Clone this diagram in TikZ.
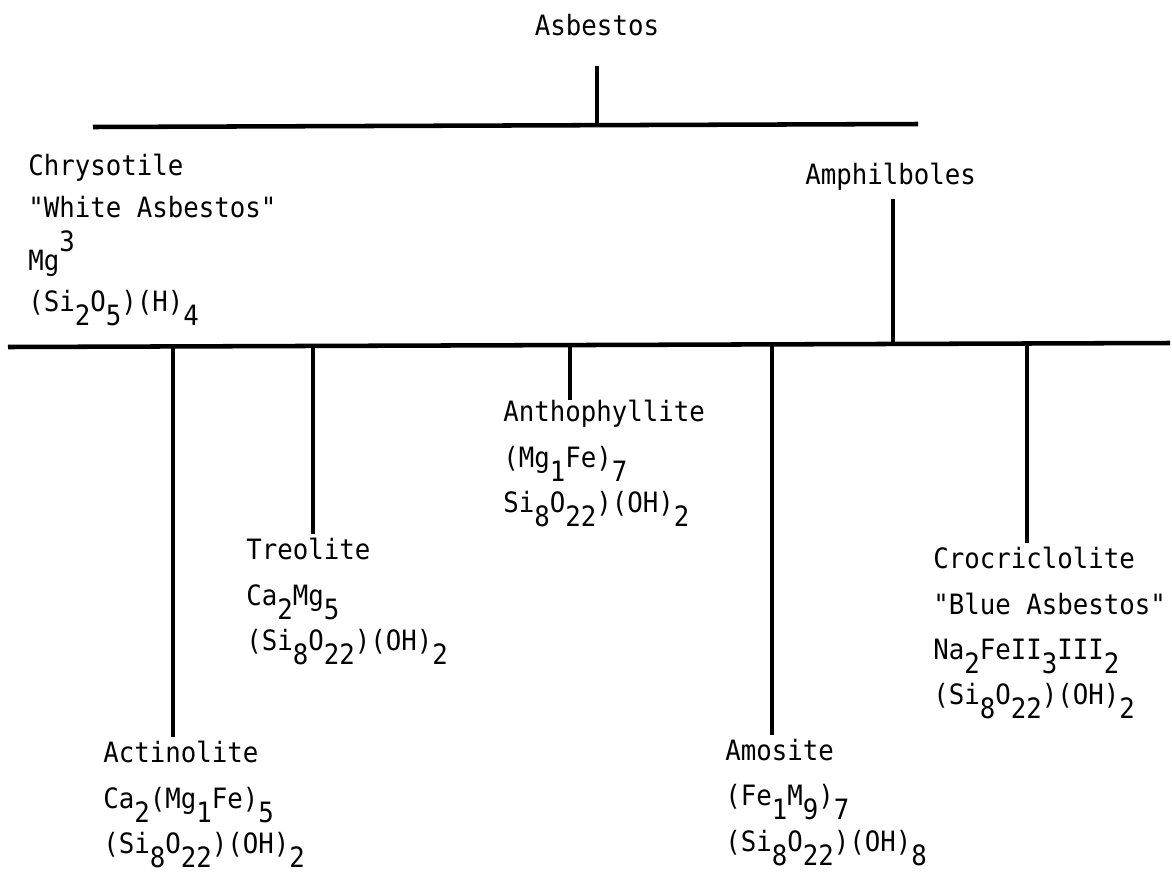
\documentclass[tikz,border=0pt]{standalone}
\usepackage{fontspec}
\newfontfamily\typer[FakeStretch=0.92]{DejaVu Sans Mono}
\newcommand{\lo}[1]{\raisebox{-10.5pt}{#1}}
\newcommand{\hi}[1]{\raisebox{14pt}{#1}}

\begin{document}
\begin{tikzpicture}[x=0.75pt,y=0.75pt,yscale=-1,xscale=1,
  mineral/.style={anchor=north west,inner sep=0pt,align=left,font=\typer\fontsize{21}{34}\selectfont},
  bar/.style={line width=3.4pt},
  stem/.style={line width=3pt}]
\useasboundingbox (0,0) rectangle (1172,872);

% Text Node
\node[mineral,anchor=north] (asb) at (597,14) {Asbestos};
% Text Node
\node[mineral] (chry) at (28,154) {Chrysotile\\[-3pt]"White Asbestos"\\[6pt]Mg\hi{3}\\[-3pt](Si\lo{2}O\lo{5})(H)\lo{4}};
% Text Node
\node[mineral] (amph) at (805,163) {Amphilboles};
% Text Node
\node[mineral] (anth) at (503,400) {Anthophyllite\\(Mg\lo{1}Fe)\lo{7}\\Si\lo{8}O\lo{22})(OH)\lo{2}};
% Text Node
\node[mineral] (treo) at (246,538) {Treolite\\Ca\lo{2}Mg\lo{5}\\(Si\lo{8}O\lo{22})(OH)\lo{2}};
% Text Node
\node[mineral] (acti) at (103,741) {Actinolite\\Ca\lo{2}(Mg\lo{1}Fe)\lo{5}\\(Si\lo{8}O\lo{22})(OH)\lo{2}};
% Text Node
\node[mineral] (amos) at (725,739) {Amosite\\(Fe\lo{1}M\lo{9})\lo{7}\\(Si\lo{8}O\lo{22})(OH)\lo{8}};
% Text Node
\node[mineral] (croc) at (933,547) {Crocriclolite\\"Blue Asbestos"\\Na\lo{2}FeII\lo{3}III\lo{2}\\(Si\lo{8}O\lo{22})(OH)\lo{2}};

%Straight Lines
\coordinate (tbl) at (93,127);
\coordinate (tbr) at (918,124);
\draw[bar] (tbl) -- (tbr);
\coordinate (mbl) at (8,347);
\coordinate (mbr) at (1170,343);
\draw[bar] (mbl) -- (mbr);

% stems
\coordinate (asbroot) at (597,126);
\draw[stem,shorten <=22pt] (asb.south) -- (asbroot);
\coordinate (amphroot) at (893,344);
\draw[stem,shorten <=6pt] (amph.south -| amphroot) -- (amphroot);
\coordinate (actiroot) at (173,346);
\draw[stem,shorten >=3pt] (actiroot) -- (actiroot |- acti.north);
\coordinate (treoroot) at (313,346);
\draw[stem,shorten >=3pt] (treoroot) -- (treoroot |- treo.north);
\coordinate (anthroot) at (570,345);
\draw[stem] (anthroot) -- (anthroot |- anth.north);
\coordinate (amosroot) at (772,344);
\draw[stem,shorten >=3pt] (amosroot) -- (amosroot |- amos.north);
\coordinate (crocroot) at (1027,344);
\draw[stem,shorten >=3pt] (crocroot) -- (crocroot |- croc.north);

\end{tikzpicture}
\end{document}
